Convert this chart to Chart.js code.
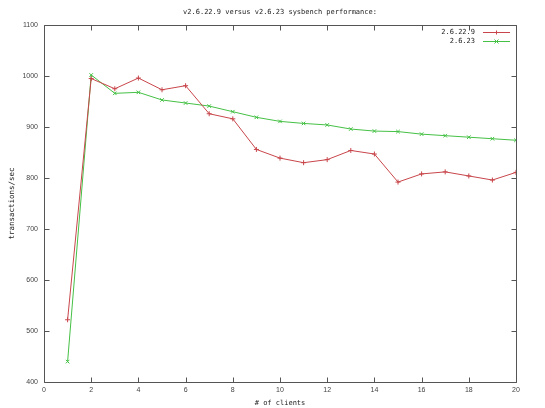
<!DOCTYPE html>
<html><head><meta charset="utf-8">
<script src="https://cdn.jsdelivr.net/npm/chart.js@4/dist/chart.umd.min.js"></script>
<style>html,body{margin:0;padding:0;background:#fff}#wrap{width:545px;height:408px}</style>
</head><body><div id="wrap"><canvas id="c" width="545" height="408"></canvas></div>
<script>
const clients = [1,2,3,4,5,6,7,8,9,10,11,12,13,14,15,16,17,18,19,20];
const v26229 = [522,995,975,996,973,981,926,916,856,839,830,836,854,847,792,808,812,804,796,811];
const v2623  = [440,1002,966,968,953,947,941,930,919,911,907,904,896,892,891,886,883,880,877,874];
const seriesNames = ['2.6.22.9','2.6.23'];
const titleText = 'v2.6.22.9 versus v2.6.23 sysbench performance:';
const xTitle = '# of clients';
const yTitle = 'transactions/sec';

const RED = '#c8464b', GREEN = '#45c045';
const mono = '"DejaVu Sans Mono", monospace';

const gnuplotDeco = {
  id: 'gnuplotDeco',
  afterDraw(chart) {
    const ctx = chart.ctx, a = chart.chartArea;
    const xs = chart.scales.x, ys = chart.scales.y;
    ctx.save();
    ctx.strokeStyle = '#555';
    ctx.lineWidth = 1;
    ctx.beginPath();
    const L = Math.round(a.left)+0.5, R = Math.round(a.right)+0.5, T = Math.round(a.top)+0.5, B = Math.round(a.bottom)+0.5;
    ctx.rect(L, T, R-L, B-T);
    xs.ticks.forEach(t => {
      const px = Math.round(xs.getPixelForValue(t.value))+0.5;
      ctx.moveTo(px, B); ctx.lineTo(px, B-5);
      ctx.moveTo(px, T); ctx.lineTo(px, T+5);
    });
    ys.ticks.forEach(t => {
      const py = Math.round(ys.getPixelForValue(t.value))+0.5;
      ctx.moveTo(L, py); ctx.lineTo(L+5, py);
      ctx.moveTo(R, py); ctx.lineTo(R-5, py);
    });
    ctx.stroke();
    // title
    ctx.fillStyle = '#222';
    ctx.font = '7px ' + mono;
    ctx.textAlign = 'center'; ctx.textBaseline = 'middle';
    ctx.fillText(titleText, (a.left + a.right)/2, 12);
    // legend
    ctx.textAlign = 'right';
    chart.data.datasets.forEach((ds, i) => {
      const y = 32 + i*9;
      ctx.fillStyle = '#222';
      ctx.fillText(ds.label, 475, y);
      ctx.strokeStyle = ds.borderColor;
      ctx.beginPath();
      ctx.moveTo(483, y+0.5); ctx.lineTo(510, y+0.5);
      const cx = 496.5, r = 2;
      if (i === 0) {
        ctx.moveTo(cx - r, y+0.5); ctx.lineTo(cx + r, y+0.5);
        ctx.moveTo(cx, y+0.5 - r); ctx.lineTo(cx, y+0.5 + r);
      } else {
        ctx.moveTo(cx - r, y+0.5 - r); ctx.lineTo(cx + r, y+0.5 + r);
        ctx.moveTo(cx - r, y+0.5 + r); ctx.lineTo(cx + r, y+0.5 - r);
      }
      ctx.stroke();
    });
    ctx.restore();
  }
};

new Chart(document.getElementById('c'), {
  type: 'line',
  data: {
    datasets: [
      { label: seriesNames[0], data: clients.map((c,i)=>({x:c,y:v26229[i]})),
        borderColor: RED, backgroundColor: RED, borderWidth: 1,
        pointStyle: 'cross', pointRadius: 2.5, pointBorderWidth: 1, pointBorderColor: RED, tension: 0 },
      { label: seriesNames[1], data: clients.map((c,i)=>({x:c,y:v2623[i]})),
        borderColor: GREEN, backgroundColor: GREEN, borderWidth: 1,
        pointStyle: 'crossRot', pointRadius: 2.5, pointBorderWidth: 1, pointBorderColor: GREEN, tension: 0 }
    ]
  },
  options: {
    responsive: false, animation: false, devicePixelRatio: 1,
    layout: { padding: { left: 0, right: 29, top: 25, bottom: 0 } },
    plugins: { legend: { display: false }, title: { display: false }, tooltip: { enabled: false } },
    scales: {
      x: {
        type: 'linear', min: 0, max: 20,
        ticks: { stepSize: 2, color: '#444', font: { family: '"Liberation Sans", sans-serif', size: 7 }, padding: 4, maxRotation: 0,
                 callback: v => String(v) },
        grid: { display: false, drawTicks: false },
        border: { display: false },
        title: { display: true, text: xTitle, color: '#222', font: { family: mono, size: 7 }, padding: { top: 0, bottom: 1 } },
        afterFit(s) { s.height = 26; }
      },
      y: {
        type: 'linear', min: 400, max: 1100,
        ticks: { stepSize: 100, color: '#444', font: { family: '"Liberation Sans", sans-serif', size: 7 }, padding: 6,
                 callback: v => String(v) },
        grid: { display: false, drawTicks: false },
        border: { display: false },
        title: { display: true, text: yTitle, color: '#222', font: { family: mono, size: 7.5 }, padding: { top: 8, bottom: 0 } },
        afterFit(s) { s.width = 44; }
      }
    }
  },
  plugins: [gnuplotDeco]
});
</script></body></html>
